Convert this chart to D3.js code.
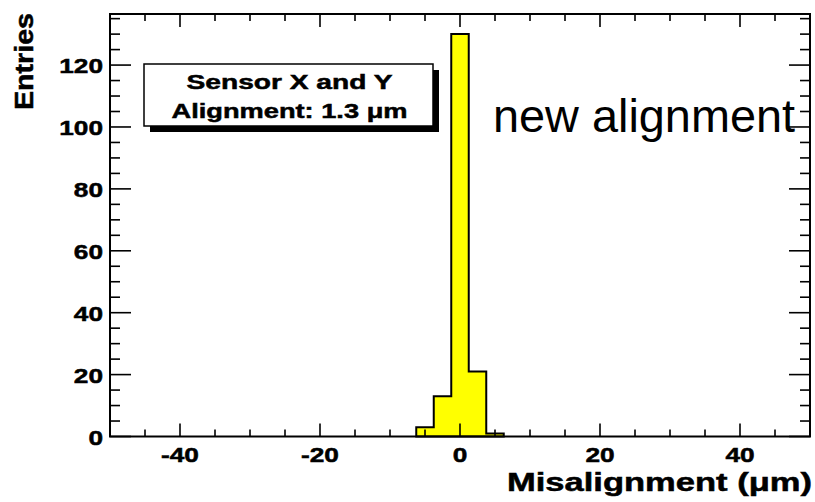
<!DOCTYPE html>
<html>
<head>
<meta charset="utf-8">
<script src="https://cdn.jsdelivr.net/npm/d3@7"></script>
<style>
  html, body { margin: 0; padding: 0; background: #fff; }
  svg { display: block; }
  text { font-family: "Liberation Sans", Arial, Helvetica, sans-serif; fill: #000; }
  text.heavy { stroke: #000; stroke-width: 0.5px; }
</style>
</head>
<body>
<svg id="chart" width="815" height="502"></svg>
<script>
// Histogram of sensor misalignment (bin width 2.5 µm)
const binLow = [-6.25, -3.75, -1.25, 1.25, 3.75];
const binHigh = [-3.75, -1.25, 1.25, 3.75, 6.25];
const counts = [3, 13, 130, 21, 1];

const xDomain = [-50, 50];
const yDomain = [0, 136.5];
const xMajor = [-40, -20, 0, 20, 40];
const xMinor = [-50, -45, -35, -30, -25, -15, -10, -5, 5, 10, 15, 25, 30, 35, 45, 50];
const yMajor = [0, 20, 40, 60, 80, 100, 120];
const yMinor = [5, 10, 15, 25, 30, 35, 45, 50, 55, 65, 70, 75, 85, 90, 95, 105, 110, 115, 125, 130, 135];

const legendLines = ["Sensor X and Y", "Alignment: 1.3 \u03bcm"];
const xTitle = "Misalignment (\u03bcm)";
const yTitle = "Entries";
const note = "new alignment";

const frame = { left: 110, right: 810, top: 14, bottom: 436.5 };
const svg = d3.select("#chart");

const x = d3.scaleLinear().domain(xDomain).range([frame.left, frame.right]);
const y = d3.scaleLinear().domain(yDomain).range([frame.bottom, frame.top]);

// Step outline of the histogram
const pts = [[binLow[0], 0]];
counts.forEach((c, i) => { pts.push([binLow[i], c]); pts.push([binHigh[i], c]); });
pts.push([binHigh[binHigh.length - 1], 0]);
const line = d3.line().x(d => x(d[0])).y(d => y(d[1]));
svg.append("path")
  .attr("d", line(pts) + "Z")
  .attr("fill", "#ffff00")
  .attr("stroke", "#000")
  .attr("stroke-width", 2)
  .attr("stroke-linejoin", "miter");

// Ticks on all four sides, pointing inward
const tickG = svg.append("g").attr("stroke", "#000").attr("stroke-width", 1.6);
function xTicks(vals, len) {
  vals.forEach(v => {
    tickG.append("line").attr("x1", x(v)).attr("x2", x(v))
      .attr("y1", frame.bottom).attr("y2", frame.bottom - len);
    tickG.append("line").attr("x1", x(v)).attr("x2", x(v))
      .attr("y1", frame.top).attr("y2", frame.top + len);
  });
}
function yTicks(vals, len) {
  vals.forEach(v => {
    tickG.append("line").attr("y1", y(v)).attr("y2", y(v))
      .attr("x1", frame.left).attr("x2", frame.left + len);
    tickG.append("line").attr("y1", y(v)).attr("y2", y(v))
      .attr("x1", frame.right).attr("x2", frame.right - len);
  });
}
xTicks(xMajor, 13);
xTicks(xMinor, 7);
yTicks(yMajor, 21);
yTicks(yMinor, 10);

// Frame
svg.append("rect")
  .attr("x", frame.left).attr("y", frame.top)
  .attr("width", frame.right - frame.left).attr("height", frame.bottom - frame.top)
  .attr("fill", "none").attr("stroke", "#000").attr("stroke-width", 2);

// Tick labels (wide bold face)
const stretch = 1.25;
xMajor.forEach(v => {
  svg.append("text").attr("class", "heavy")
    .attr("transform", `translate(${x(v)},462) scale(${stretch},1)`)
    .attr("text-anchor", "middle")
    .attr("font-weight", "bold").attr("font-size", 21)
    .text(String(v));
});
yMajor.forEach(v => {
  svg.append("text").attr("class", "heavy")
    .attr("transform", `translate(103,${y(v) + 8}) scale(${stretch},1)`)
    .attr("text-anchor", "end")
    .attr("font-weight", "bold").attr("font-size", 21)
    .text(String(v));
});

// Axis titles
svg.append("text").attr("class", "heavy")
  .attr("x", 507).attr("y", 491)
  .attr("font-weight", "bold").attr("font-size", 26)
  .attr("textLength", 305).attr("lengthAdjust", "spacingAndGlyphs")
  .text(xTitle);
svg.append("text").attr("class", "heavy")
  .attr("transform", "translate(33,110) rotate(-90)")
  .attr("font-weight", "bold").attr("font-size", 25)
  .attr("textLength", 97).attr("lengthAdjust", "spacingAndGlyphs")
  .text(yTitle);

// Legend box with drop shadow
const box = { x: 144, y: 64, w: 289, h: 62 };
svg.append("rect").attr("x", box.x + 6).attr("y", box.y + 6)
  .attr("width", box.w).attr("height", box.h).attr("fill", "#000");
svg.append("rect").attr("x", box.x).attr("y", box.y)
  .attr("width", box.w).attr("height", box.h)
  .attr("fill", "#fff").attr("stroke", "#000").attr("stroke-width", 1.5);
const legendBase = [89, 118];
const legendWidth = [206, 236];
legendLines.forEach((t, i) => {
  svg.append("text").attr("class", "heavy")
    .attr("x", box.x + box.w / 2 - legendWidth[i] / 2 + 1)
    .attr("y", legendBase[i])
    .attr("font-weight", "bold").attr("font-size", 21)
    .attr("textLength", legendWidth[i]).attr("lengthAdjust", "spacingAndGlyphs")
    .text(t);
});

// Annotation
svg.append("text")
  .attr("x", 493).attr("y", 132)
  .attr("font-size", 46)
  .attr("textLength", 302).attr("lengthAdjust", "spacingAndGlyphs")
  .text(note);
</script>
</body>
</html>
